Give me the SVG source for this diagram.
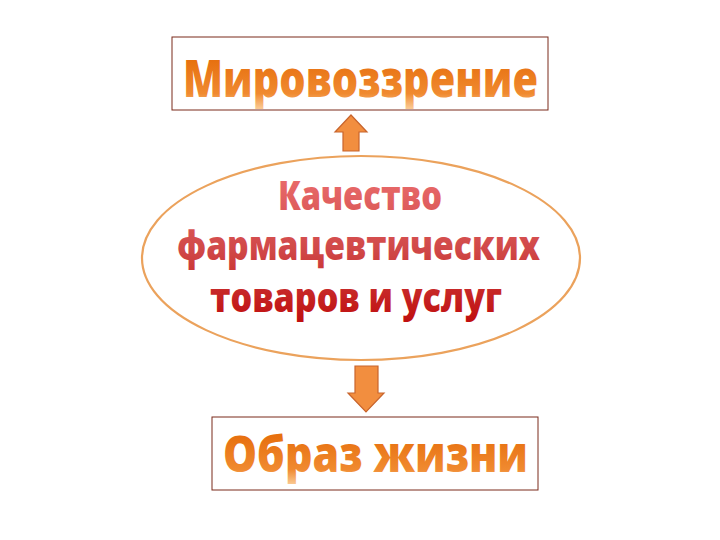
<svg xmlns="http://www.w3.org/2000/svg" width="720" height="540" viewBox="0 0 720 540">
<style>
.box{fill:#ffffff;stroke:#7a2a1a;stroke-width:1}
.ell{fill:#ffffff;stroke:#eba25c;stroke-width:2.2}
.arr{fill:#f28e3f;stroke:#c8642c;stroke-width:1.2}
.t{font-family:"Open Sans","Liberation Sans",sans-serif;font-weight:800}
</style>
<defs>
<linearGradient id="og1" gradientUnits="userSpaceOnUse" x1="0" y1="60" x2="0" y2="108">
<stop offset="0" stop-color="#e7700f"/><stop offset="0.7" stop-color="#f08a30"/><stop offset="1" stop-color="#fac890"/>
</linearGradient>
<linearGradient id="og2" gradientUnits="userSpaceOnUse" x1="0" y1="436" x2="0" y2="484">
<stop offset="0" stop-color="#e7700f"/><stop offset="0.7" stop-color="#f08a30"/><stop offset="1" stop-color="#fac890"/>
</linearGradient>
<linearGradient id="rg" gradientUnits="userSpaceOnUse" x1="0" y1="180" x2="0" y2="320">
<stop offset="0" stop-color="#e86a6a"/><stop offset="0.5" stop-color="#d04848"/><stop offset="1" stop-color="#c01010"/>
</linearGradient>
</defs>
<g id="connectors">
<polygon class="arr" points="351,115 367,132 359,132 359,151 343,151 343,132 335,132"/>
<polygon class="arr" points="355,366 378,366 378,393 384,393 366,412 348,393 355,393"/>
</g>
<g id="node-worldview">
<rect class="box" x="172" y="37" width="376" height="73"/>
<text class="t" x="183" y="97" font-size="52" fill="url(#og1)" textLength="355" lengthAdjust="spacingAndGlyphs">Мировоззрение</text>
</g>
<g id="node-quality">
<ellipse class="ell" cx="361" cy="258" rx="219" ry="102"/>
<text class="t" x="278" y="210" font-size="41" fill="url(#rg)" textLength="164" lengthAdjust="spacingAndGlyphs">Качество</text>
<text class="t" x="177" y="260" font-size="41" fill="url(#rg)" textLength="363" lengthAdjust="spacingAndGlyphs">фармацевтических</text>
<text class="t" x="210" y="312" font-size="41" fill="url(#rg)" textLength="292" lengthAdjust="spacingAndGlyphs">товаров и услуг</text>
</g>
<g id="node-lifestyle">
<rect class="box" x="212" y="417" width="326" height="73"/>
<text class="t" x="223" y="472" font-size="50" fill="url(#og2)" textLength="305" lengthAdjust="spacingAndGlyphs">Образ жизни</text>
</g>
</svg>
